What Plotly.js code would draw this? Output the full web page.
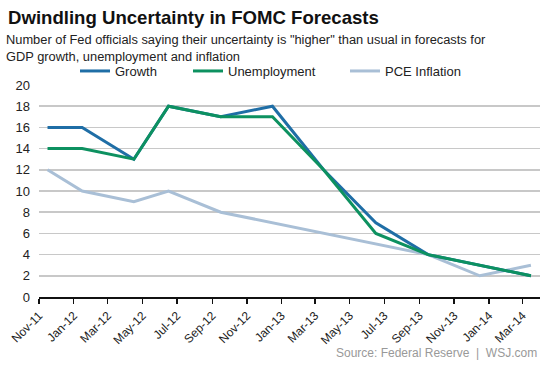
<!DOCTYPE html>
<html>
<head>
<meta charset="utf-8">
<script src="https://cdn.plot.ly/plotly-3.0.1.min.js"></script>
<style>html,body{margin:0;padding:0;background:#fff;}#chart{width:553px;height:369px;}</style>
</head>
<body>
<div id="chart"></div>
<script>
// FOMC meeting months (plotted mid-month)
const dates = ["2011-11-16","2012-01-16","2012-04-16","2012-06-16","2012-09-16","2012-12-16","2013-03-16","2013-06-16","2013-09-16","2013-12-16","2014-03-16"];
const growth = [16,16,13,18,17,18,12,7,4,3,2];
const unemployment = [14,14,13,18,17,17,12,6,4,3,2];
const pceInflation = [12,10,9,10,8,7,6,5,4,2,3];
const yTicks = [0,2,4,6,8,10,12,14,16,18,20];

const FONT = "Liberation Sans, Arial, sans-serif";
const traces = [
  {x: dates, y: pceInflation, name: "PCE Inflation", type: "scatter", mode: "lines",
   line: {color: "#a9bfd6", width: 3}, legend: "legend3"},
  {x: dates, y: growth, name: "Growth", type: "scatter", mode: "lines",
   line: {color: "#1f6ea6", width: 3}, legend: "legend"},
  {x: dates, y: unemployment, name: "Unemployment", type: "scatter", mode: "lines",
   line: {color: "#0d9160", width: 3}, legend: "legend2"}
];
const legBase = {orientation: "h", yanchor: "middle", xanchor: "left", y: 1.066,
  bgcolor: "rgba(0,0,0,0)", font: {family: FONT, size: 13, color: "#222"}, borderwidth: 0};
const layout = {
  width: 553, height: 369,
  margin: {l: 39, r: 13, t: 85, b: 72},
  paper_bgcolor: "#fff", plot_bgcolor: "#fff",
  font: {family: FONT, color: "#222"},
  title: {text: "<b>Dwindling Uncertainty in FOMC Forecasts</b>", font: {family: FONT, size: 18.6, color: "#111"},
    x: 8/553, xanchor: "left", xref: "container", y: 1 - 17/369, yanchor: "middle", yref: "container"},
  showlegend: true,
  legend: Object.assign({}, legBase, {x: (75-39)/501}),
  legend2: Object.assign({}, legBase, {x: (188-39)/501}),
  legend3: Object.assign({}, legBase, {x: (345-39)/501}),
  xaxis: {type: "date", range: ["2011-11-01","2014-04-01"], tick0: "2011-11-01", dtick: "M2",
    tickformat: "%b-%y", tickangle: -45, showgrid: false, showline: true, linecolor: "#111", linewidth: 2,
    ticks: "outside", ticklen: 5, tickwidth: 1.5, tickcolor: "#111",
    tickfont: {family: FONT, size: 12, color: "#222"}, zeroline: false, fixedrange: true},
  yaxis: {range: [0, 20], tickvals: yTicks, ticktext: yTicks.map(String), showgrid: true,
    gridcolor: "#c8c8c8", gridwidth: 1.5, zeroline: false, showline: false, ticks: "",
    ticklabelstandoff: 8, tickfont: {family: FONT, size: 13, color: "#222"}, fixedrange: true},
  annotations: [
    {text: "Number of Fed officials saying their uncertainty is \"higher\" than usual in forecasts for<br>GDP growth, unemployment and inflation",
     xref: "paper", yref: "paper", x: -35/501, y: 1 + (85-30)/211.7, xanchor: "left", yanchor: "top",
     align: "left", showarrow: false, font: {family: FONT, size: 12.85, color: "#222"}},
    {text: "Source: Federal Reserve  |  WSJ.com", xref: "paper", yref: "paper",
     x: (539-39)/501, y: -(353-296.7)/211.7, xanchor: "right", yanchor: "middle", showarrow: false,
     font: {family: FONT, size: 12, color: "#999"}}
  ]
};
Plotly.newPlot("chart", traces, layout, {displayModeBar: false, staticPlot: true});
</script>
</body>
</html>
